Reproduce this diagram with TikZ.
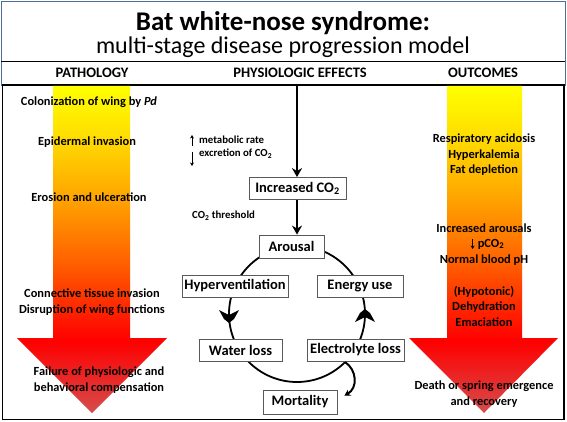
\documentclass[tikz,border=0pt]{standalone}
\usepackage{fontspec}
\setmainfont{Carlito}
\usetikzlibrary{arrows.meta,calc}
\definecolor{tipc}{RGB}{214,76,76}
\definecolor{rA}{RGB}{255,30,0}
\definecolor{oA}{RGB}{255,96,0}
\definecolor{oB}{RGB}{255,165,0}
\definecolor{yA}{RGB}{255,225,0}
\definecolor{frameblue}{RGB}{79,109,150}
\pgfdeclareverticalshading{wnsgrad}{100bp}{color(0bp)=(tipc); color(25bp)=(tipc); color(36bp)=(red); color(40bp)=(rA); color(48bp)=(oA); color(58bp)=(oB); color(68bp)=(yA); color(75bp)=(yellow); color(100bp)=(yellow)}
\begin{document}
\begin{tikzpicture}[x=1pt,y=-1pt,
  box/.style={draw=black!65, line width=0.8pt, fill=white, inner sep=0pt, minimum height=22pt, font=\fontsize{14.5}{16}\selectfont\bfseries},
  lbl/.style={font=\fontsize{12.4}{15.5}\selectfont\bfseries, align=center, inner sep=0pt},
  hdr/.style={font=\fontsize{14.5}{16}\selectfont\bfseries, inner sep=0pt},
  small/.style={font=\fontsize{10.8}{12}\selectfont\bfseries, anchor=west, inner sep=0pt},
  flow/.style={line width=2pt, -{Stealth[length=9pt,width=10pt]}},
  thin/.style={line width=0.9pt, -{Stealth[length=3.5pt,width=4pt]}}
]
\useasboundingbox (0,0) rectangle (567,422);
\fill[white] (0,0) rectangle (567,422);
% frames
\draw[frameblue, line width=0.8pt] (1,1) rectangle (565,85);
\draw[black, line width=0.9pt] (1,61) -- (565,61);
\draw[black, line width=1.5pt] (2.5,85) rectangle (564,419.5);
% title
\node[font=\fontsize{27}{30}\selectfont\bfseries, inner sep=0pt] (t1) at (283,23) {Bat white-nose syndrome:};
\node[font=\fontsize{24}{27}\selectfont, inner sep=0pt] (t2) at (283,47) {multi-stage disease progression model};
\node[hdr] (h1) at (92,73) {PATHOLOGY};
\node[hdr] (h2) at (300,73) {PHYSIOLOGIC EFFECTS};
\node[hdr] (h3) at (483,73) {OUTCOMES};
% big arrows
\shade[shading=wnsgrad] (53,86) -- (130,86) -- (130,338) -- (167,338) -- (92,413) -- (17,338) -- (53,338) -- cycle;
\shade[shading=wnsgrad] (447,86) -- (522,86) -- (522,338) -- (558,338) -- (484,413) -- (409,338) -- (447,338) -- cycle;
% left texts
\node[lbl] (p1) at (89,102) {Colonization of wing by \textit{Pd}};
\node[lbl] (p2) at (87,142) {Epidermal invasion};
\node[lbl] (p3) at (89,197) {Erosion and ulceration};
\node[lbl] (p4) at (92,302) {Connective tissue invasion\\Disruption of wing functions};
\node[lbl] (p5) at (99,380) {Failure of physiologic and\\behavioral compensation};
% right texts
\node[lbl] (o1) at (484,155) {Respiratory acidosis\\Hyperkalemia\\Fat depletion};
\node[lbl] (o2) at (484,228) {Increased arousals};
\node[lbl] (o3) at (491,244) {pCO\textsubscript{2}};
\node[lbl] (o4) at (484,260) {Normal blood pH};
\node[lbl] (o5) at (484,306) {(Hypotonic)\\Dehydration\\Emaciation};
\node[lbl] (o6) at (484,394) {Death or spring emergence\\and recovery};
\coordinate (pa) at ($(o3.west)+(-5,-5)$);
\coordinate (pb) at ($(o3.west)+(-5,5)$);
\draw[thin] (pa) -- (pb);
% centre column
\coordinate (cc) at (297,314);
\draw[line width=1.8pt] (cc) circle (68);
\coordinate (top) at (297,85);
\node[box, minimum width=97pt] (co2) at (297.5,188.5) {Increased CO\textsubscript{2}};
\node[box, minimum width=65pt, minimum height=23pt] (arousal) at (291.5,246.5) {Arousal};
\node[box, minimum width=106pt] (hyper) at (235,286) {Hyperventilation};
\node[box, minimum width=86pt] (energy) at (360,286) {Energy use};
\node[box, minimum width=83pt] (water) at (240.5,350) {Water loss};
\node[box, minimum width=97pt] (elec) at (355.5,350) {Electrolyte loss};
\node[box, minimum width=74pt, minimum height=24pt] (mort) at (300,402) {Mortality};
\draw[flow] (top) -- (co2.north -| top);
\draw[flow] (co2.south -| top) -- (arousal.north -| top);
% chevrons on circle
\coordinate (chl) at ($(cc)+(180:68)+(0,2)$);
\coordinate (chr) at ($(cc)+(0:68)+(0,2)$);
\fill[shift={(chl)}] (-10,-6) -- (0,-1) -- (10,-6) -- (5,3) -- (0,7) -- (-5,3) -- cycle;
\fill[shift={(chr)}, yscale=-1] (-10,-6) -- (0,-1) -- (10,-6) -- (5,3) -- (0,7) -- (-5,3) -- cycle;
% mortality arrow
\coordinate (ms) at ($(cc)+(45:68)$);
\coordinate (me) at ($(mort.north east)+(7,6)$);
\draw[line width=2pt, -{Stealth[length=6pt,width=7pt]}] (ms) .. controls (357,370) and (358,388) .. (me);
% small labels
\node[small] (m1) at (199,140) {metabolic rate};
\node[small] (m2) at (199,154) {excretion of CO\textsubscript{2}};
\node[small] (m3) at (192,216) {CO\textsubscript{2} threshold};
\coordinate (ua) at (192,146);
\coordinate (ub) at (192,135);
\coordinate (da) at (192,152);
\coordinate (db) at (192,166);
\draw[thin] (ua) -- (ub);
\draw[thin] (da) -- (db);
\end{tikzpicture}
\end{document}
